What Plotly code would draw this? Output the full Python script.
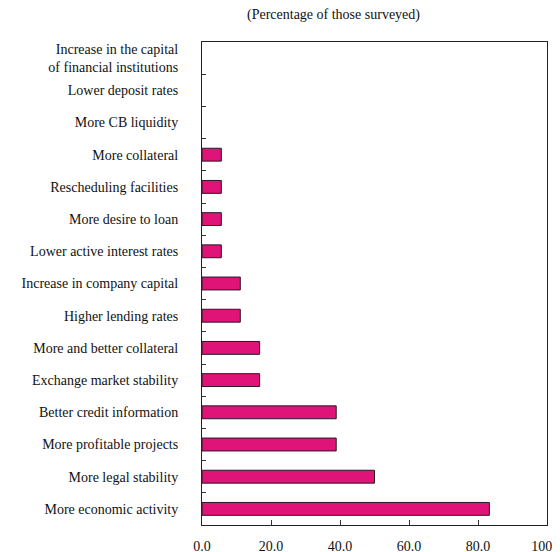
import plotly.graph_objects as go

categories = [
    "Increase in the capital<br>of financial institutions",
    "Lower deposit rates",
    "More CB liquidity",
    "More collateral",
    "Rescheduling facilities",
    "More desire to loan",
    "Lower active interest rates",
    "Increase in company capital",
    "Higher lending rates",
    "More and better collateral",
    "Exchange market stability",
    "Better credit information",
    "More profitable projects",
    "More legal stability",
    "More economic activity",
]
values = [0.0, 0.0, 0.0, 5.6, 5.6, 5.6, 5.6, 11.1, 11.1, 16.7, 16.7, 38.9, 38.9, 50.0, 83.3]
x_ticks = [0, 20, 40, 60, 80, 100]
x_tick_labels = ["0.0", "20.0", "40.0", "60.0", "80.0", "100.0"]

FAM = "Liberation Serif"
W, H = 560, 544
L, R, T, B = 194, 21, 34, 27
pw, ph = W - L - R, H - T - B

fig = go.Figure(go.Bar(
    y=categories, x=values, orientation="h", width=0.4,
    marker=dict(color="#DF1378",
                line=dict(color="#2a1a22", width=[0 if v == 0 else 1 for v in values])),
))

fig.update_layout(
    width=W, height=H,
    margin=dict(l=L, r=R, t=T, b=B, autoexpand=False),
    paper_bgcolor="white", plot_bgcolor="white",
    font=dict(family=FAM, size=14, color="#111"), showlegend=False,
    annotations=[dict(text="(Percentage of those surveyed)",
                      xref="paper", yref="paper",
                      x=(325 - L) / pw, y=(H - B - 7) / ph,
                      xanchor="center", yanchor="middle", showarrow=False,
                      font=dict(size=14, family=FAM, color="#111"))],
)
fig.update_xaxes(range=[0, 100], tickvals=x_ticks, ticktext=x_tick_labels,
                 ticks="inside", ticklen=5, tickcolor="#333",
                 showline=True, linecolor="#222", linewidth=1, mirror=True,
                 showgrid=False, zeroline=False, ticklabelstandoff=8,
                 automargin=False, ticklabeloverflow="allow")
fig.update_yaxes(autorange="reversed", tickson="boundaries", ticks="inside",
                 ticklen=4, tickcolor="#333",
                 showline=True, linecolor="#222", linewidth=1, mirror=True,
                 showgrid=False, ticklabelstandoff=20, automargin=False,
                 ticklabeloverflow="allow")

fig.write_html("out.html")
